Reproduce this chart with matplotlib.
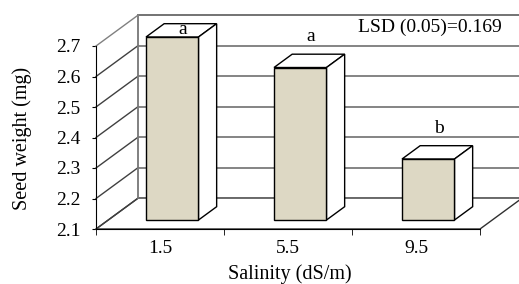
import matplotlib.pyplot as plt
from matplotlib.patches import Polygon

# Data
salinity = ["1.5", "5.5", "9.5"]
seed_weight = [2.70, 2.60, 2.30]
letters = ["a", "a", "b"]
y_ticks = [2.1, 2.2, 2.3, 2.4, 2.5, 2.6, 2.7]
lsd_text = "LSD (0.05)=0.169"

plt.rcParams["font.family"] = ["Liberation Serif", "DejaVu Serif"]
plt.rcParams["font.size"] = 14

# 3D look (Excel style): depth shift in data units
DX, DY = 0.33, 0.1016
y0, y1 = y_ticks[0], y_ticks[-1]
n = len(salinity)
bar_w = 0.41
d_front, d_back = 0.29, 0.72

fig = plt.figure(figsize=(5.19, 2.84), dpi=100)
W, H = 519, 284
ax = fig.add_axes([96 / W, (H - 229) / H, 384 / W, 183 / H])
ax.set_xlim(0, n)
ax.set_ylim(y0, y1)

grid_col = "#707070"
edge_col = "#808080"

# walls and floor
back = Polygon([(DX, y0 + DY), (n + DX, y0 + DY), (n + DX, y1 + DY), (DX, y1 + DY)],
               closed=True, facecolor="white", edgecolor=edge_col, lw=1.2, clip_on=False, zorder=1)
ax.add_patch(back)
floor = Polygon([(0, y0), (n, y0), (n + DX, y0 + DY), (DX, y0 + DY)],
                closed=True, facecolor="white", edgecolor="#303030", lw=1.0, clip_on=False, zorder=1)
ax.add_patch(floor)

# gridlines on back and side walls
for v in y_ticks:
    ax.plot([DX, n + DX], [v + DY, v + DY], color=grid_col, lw=1.2, clip_on=False, zorder=2)
    ax.plot([0, DX], [v, v + DY], color="#404040" if v < y1 else edge_col, lw=1.0,
            clip_on=False, zorder=2)
ax.plot([DX, DX], [y0 + DY, y1 + DY], color=edge_col, lw=1.2, clip_on=False, zorder=2)

# bars
for i, v in enumerate(seed_weight):
    c = i + 0.5
    xl, xr = c - bar_w / 2 + d_front * DX, c + bar_w / 2 + d_front * DX
    yb, yt = y0 + d_front * DY, v + d_front * DY
    ddx, ddy = (d_back - d_front) * DX, (d_back - d_front) * DY
    front = Polygon([(xl, yb), (xr, yb), (xr, yt), (xl, yt)], closed=True,
                    facecolor="#DDD8C4", edgecolor="black", lw=1.0, clip_on=False, zorder=4)
    top = Polygon([(xl, yt), (xr, yt), (xr + ddx, yt + ddy), (xl + ddx, yt + ddy)], closed=True,
                  facecolor="white", edgecolor="black", lw=1.0, clip_on=False, zorder=3)
    side = Polygon([(xr, yb), (xr + ddx, yb + ddy), (xr + ddx, yt + ddy), (xr, yt)], closed=True,
                   facecolor="white", edgecolor="black", lw=1.0, clip_on=False, zorder=3)
    for p in (front, top, side):
        ax.add_patch(p)
    ly = min(v + 0.13, y1 + 0.055)
    ax.text(c + 0.18, ly, letters[i], ha="center", va="center", fontsize=14, zorder=6)

ax.text(2.61, y1 + 0.062, lsd_text, ha="center", va="center", fontsize=14, zorder=6)

# front axes
for s in ("top", "right"):
    ax.spines[s].set_visible(False)
ax.spines["left"].set_color("black")
ax.spines["bottom"].set_color("black")
ax.spines["left"].set_zorder(5)
ax.spines["bottom"].set_zorder(5)
ax.set_yticks(y_ticks)
ax.set_yticklabels([f"{v:.1f}" for v in y_ticks])
ax.tick_params(axis="y", direction="out", length=3, pad=8, labelsize=14)
ax.set_xticks([i + 0.5 for i in range(n)])
ax.set_xticklabels(salinity)
ax.set_xticks(range(n + 1), minor=True)
ax.tick_params(axis="x", which="major", length=0, pad=8, labelsize=14)
ax.tick_params(axis="x", which="minor", direction="out", length=4.5)
ax.patch.set_visible(False)

fig.text(22 / W, 1 - 138 / H, "Seed weight (mg)", rotation=90, ha="center", va="center", fontsize=14.5)
fig.text(290 / W, 1 - 274 / H, "Salinity (dS/m)", ha="center", va="center", fontsize=14.5)

fig.savefig("out.png", dpi=100)
